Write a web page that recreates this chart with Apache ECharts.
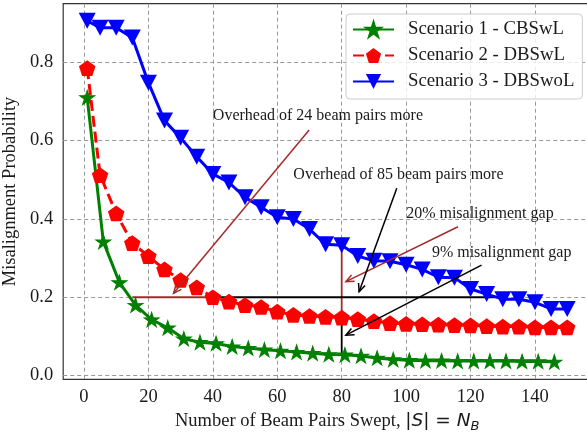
<!DOCTYPE html>
<html><head><meta charset="utf-8">
<script src="https://cdn.jsdelivr.net/npm/echarts@6/dist/echarts.min.js"></script>
<style>html,body{margin:0;padding:0;background:#fff}#c{width:587px;height:432px}</style>
</head><body><div id="c"></div>
<script>
// ---- data ----
const xTicks = [0, 20, 40, 60, 80, 100, 120, 140];
const yTicks = [0, 0.2, 0.4, 0.6, 0.8];
const seriesNames = ['Scenario 1 - CBSwL', 'Scenario 2 - DBSwL', 'Scenario 3 - DBSwoL'];

const xScenario1 = [1, 6, 11, 16, 21, 26, 31, 36, 41, 46, 51, 56, 61, 66, 71, 76, 81, 86, 91, 96, 101, 106, 111, 116, 121, 126, 131, 136, 141, 146];
const yScenario1 = [0.71, 0.342, 0.238, 0.18, 0.143, 0.122, 0.094, 0.085, 0.082, 0.074, 0.07, 0.066, 0.063, 0.06, 0.057, 0.054, 0.053, 0.05, 0.045, 0.041, 0.039, 0.038, 0.038, 0.037, 0.037, 0.037, 0.037, 0.036, 0.036, 0.035];

const xScenario2 = [1, 5, 10, 15, 20, 25, 30, 35, 40, 45, 50, 55, 60, 65, 70, 75, 80, 85, 90, 95, 100, 105, 110, 115, 120, 125, 130, 135, 140, 145, 150];
const yScenario2 = [0.785, 0.512, 0.414, 0.338, 0.305, 0.271, 0.244, 0.225, 0.2, 0.189, 0.18, 0.175, 0.163, 0.155, 0.152, 0.15, 0.148, 0.144, 0.139, 0.134, 0.132, 0.131, 0.13, 0.129, 0.128, 0.126, 0.125, 0.125, 0.123, 0.123, 0.123];

const xScenario3 = [1, 5, 10, 15, 20, 25, 30, 35, 40, 45, 50, 55, 60, 65, 70, 75, 80, 85, 90, 95, 100, 105, 110, 115, 120, 125, 130, 135, 140, 145, 150];
const yScenario3 = [0.906, 0.888, 0.888, 0.863, 0.748, 0.651, 0.607, 0.559, 0.515, 0.493, 0.455, 0.43, 0.404, 0.4, 0.374, 0.335, 0.333, 0.305, 0.293, 0.292, 0.283, 0.271, 0.251, 0.25, 0.221, 0.208, 0.195, 0.195, 0.187, 0.17, 0.17];

// reference lines [x1, y1, x2, y2] in data units
const brownSegments = [[15, 0.2, 40, 0.2], [80, 0.333, 80, 0.148]];
const blackSegments = [[40, 0.2, 127.5, 0.2], [80, 0.148, 80, 0.053]];
// annotation arrows [fromX, fromY, toX, toY]
const brownArrows = [[69.9, 0.627, 27.8, 0.21], [116.1, 0.38, 81.3, 0.24]];
const blackArrows = [[97.1, 0.478, 85.4, 0.214], [123.4, 0.282, 81.3, 0.103]];
// annotation texts and their anchors (left, baseline)
const annotationTexts = ['Overhead of 24 beam pairs more', 'Overhead of 85 beam pairs more', '20% misalignment gap', '9% misalignment gap'];
const annotationX = [40, 65, 100, 108];
const annotationY = [0.65, 0.5, 0.4, 0.3];

// ---- styling / rendering ----
const SERIF = 'Liberation Serif';
const TXT = '#1a1a1a';
const starPath = 'path://M100,0 L122.45,69.1 L195.11,69.1 L136.33,111.8 L158.78,180.9 L100,138.2 L41.22,180.9 L63.67,111.8 L4.89,69.1 L77.55,69.1 Z';
const pentPath = 'path://M100,0 L195.11,69.1 L158.78,180.9 L41.22,180.9 L4.89,69.1 Z';

function zip(xs, ys) { return xs.map((x, i) => [x, ys[i]]); }

function segRender(color, width) {
  return function (params, api) {
    const a = api.coord([api.value(0), api.value(1)]);
    const b = api.coord([api.value(2), api.value(3)]);
    return { type: 'line', shape: { x1: a[0], y1: a[1], x2: b[0], y2: b[1] },
      style: { stroke: color, lineWidth: width, fill: 'none' } };
  };
}
function arrowRender(color, width) {
  return function (params, api) {
    const a = api.coord([api.value(0), api.value(1)]);
    const b = api.coord([api.value(2), api.value(3)]);
    const ang = Math.atan2(b[1] - a[1], b[0] - a[0]);
    const L = 8, W = 3.5;
    const bx = b[0] - L * Math.cos(ang), by = b[1] - L * Math.sin(ang);
    const px = -Math.sin(ang) * W, py = Math.cos(ang) * W;
    return { type: 'group', children: [
      { type: 'line', shape: { x1: a[0], y1: a[1], x2: b[0], y2: b[1] }, style: { stroke: color, lineWidth: width, fill: 'none' } },
      { type: 'polyline', shape: { points: [[bx + px, by + py], [b[0], b[1]], [bx - px, by - py]] }, style: { stroke: color, lineWidth: width, fill: 'none' } }
    ] };
  };
}
function textRender(params, api) {
  const p = api.coord([api.value(0), api.value(1)]);
  const fs = 16;
  return { type: 'text', x: p[0], y: p[1] - 0.34 * fs,
    style: { text: annotationTexts[params.dataIndex], fontSize: fs, fontFamily: SERIF, fill: TXT, align: 'left', verticalAlign: 'middle' } };
}

const chart = echarts.init(document.getElementById('c'), null, { renderer: 'canvas' });
const mathStyle = { fontFamily: 'DejaVu Sans', fontSize: 18.5, color: TXT, lineHeight: 24 };
chart.setOption({
  animation: false,
  backgroundColor: '#fff',
  grid: { left: 63.2, top: 3.7, width: 528, height: 375.6, show: true, borderColor: '#333', borderWidth: 1.2,
    backgroundColor: 'transparent', containLabel: false, outerBoundsMode: 'none' },
  legend: {
    data: seriesNames, orient: 'vertical', left: 346, top: 14,
    padding: [6, 8, 8, 6], itemWidth: 41, itemHeight: 19, itemGap: 7,
    backgroundColor: 'rgba(255,255,255,0.8)', borderColor: '#cccccc', borderWidth: 1, borderRadius: 4,
    textStyle: { fontFamily: SERIF, fontSize: 18.8, color: TXT, padding: [0, 0, 0, 9] }
  },
  xAxis: {
    type: 'value', min: -6.45, max: 157.45,
    axisLine: { show: false },
    axisTick: { show: false, customValues: xTicks },
    axisLabel: { customValues: xTicks, margin: 8, fontFamily: SERIF, fontSize: 18.5, color: TXT, formatter: v => String(v) },
    splitLine: { show: true, lineStyle: { color: '#999', width: 1, type: [4, 3] } },
    name: '{t|Number of Beam Pairs Swept, }{m||}{i|S}{m|| = }{i|N}{s|B}',
    nameLocation: 'middle', nameGap: 28.5,
    nameTextStyle: { rich: {
      t: { fontFamily: SERIF, fontSize: 18.5, color: TXT, lineHeight: 24 },
      m: mathStyle,
      i: Object.assign({}, mathStyle, { fontStyle: 'italic' }),
      s: { fontFamily: 'DejaVu Sans', fontStyle: 'italic', fontSize: 13, color: TXT, lineHeight: 13, verticalAlign: 'bottom' }
    } }
  },
  yAxis: {
    type: 'value', min: -0.0096, max: 0.9496,
    axisLine: { show: false },
    axisTick: { show: false, customValues: yTicks },
    axisLabel: { customValues: yTicks, margin: 10, fontFamily: SERIF, fontSize: 18.5, color: TXT, formatter: v => v.toFixed(1) },
    splitLine: { show: true, lineStyle: { color: '#999', width: 1, type: [4, 3] } },
    name: 'Misalignment Probability', nameLocation: 'middle', nameGap: 39, nameRotate: 90,
    nameTextStyle: { fontFamily: SERIF, fontSize: 18.5, color: TXT }
  },
  series: [
    { type: 'custom', name: 'brownSeg', coordinateSystem: 'cartesian2d', z: 1, silent: true,
      encode: { x: [0, 2], y: [1, 3] }, data: brownSegments, renderItem: segRender('#a52a2a', 1.8) },
    { type: 'custom', name: 'blackSeg', coordinateSystem: 'cartesian2d', z: 1, silent: true,
      encode: { x: [0, 2], y: [1, 3] }, data: blackSegments, renderItem: segRender('#000000', 1.8) },
    { type: 'line', name: seriesNames[0], data: zip(xScenario1, yScenario1), z: 2,
      symbol: starPath, symbolSize: [15, 14.2], color: '#008000',
      lineStyle: { width: 3, color: '#008000' }, itemStyle: { color: '#008000', borderColor: '#008000', borderWidth: 1 } },
    { type: 'line', name: seriesNames[1], data: zip(xScenario2, yScenario2), z: 3,
      symbol: pentPath, symbolSize: [16.5, 15.7], color: '#ff0000',
      lineStyle: { width: 3, color: '#ff0000', type: [11, 5] }, itemStyle: { color: '#ff0000' } },
    { type: 'line', name: seriesNames[2], data: zip(xScenario3, yScenario3), z: 4,
      symbol: 'triangle', symbolRotate: 180, symbolSize: [17, 16], color: '#0000ff',
      lineStyle: { width: 3, color: '#0000ff' }, itemStyle: { color: '#0000ff' } },
    { type: 'custom', name: 'brownArrow', coordinateSystem: 'cartesian2d', z: 6, silent: true,
      encode: { x: [0, 2], y: [1, 3] }, data: brownArrows, renderItem: arrowRender('#a52a2a', 1.5) },
    { type: 'custom', name: 'blackArrow', coordinateSystem: 'cartesian2d', z: 6, silent: true,
      encode: { x: [0, 2], y: [1, 3] }, data: blackArrows, renderItem: arrowRender('#000000', 1.5) },
    { type: 'custom', name: 'notes', coordinateSystem: 'cartesian2d', z: 7, silent: true,
      encode: { x: 0, y: 1 }, data: zip(annotationX, annotationY), renderItem: textRender }
  ]
});
</script>
</body></html>
